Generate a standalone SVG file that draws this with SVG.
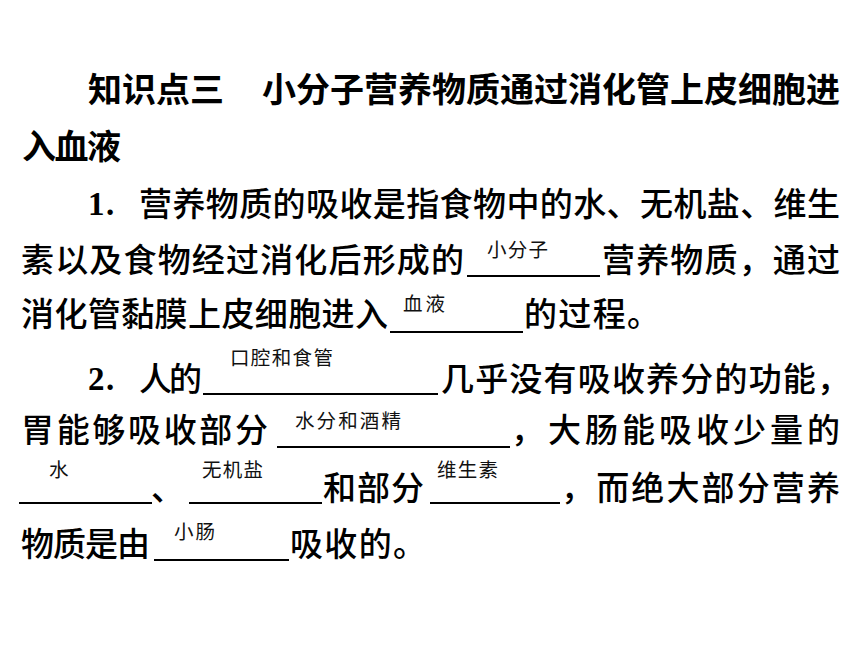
<svg xmlns="http://www.w3.org/2000/svg" width="860" height="645" viewBox="0 0 860 645">
<style>
.t{font-family:"Noto Sans CJK SC","Noto Sans CJK JP",sans-serif;font-size:34px;font-weight:700;fill:#000}
.b{font-family:"Noto Sans CJK SC","Noto Sans CJK JP",sans-serif;font-size:33px;font-weight:500;fill:#000}
.n{font-family:"Liberation Serif",serif;font-size:33px;font-weight:700;fill:#000}
.a{font-family:"Noto Sans CJK SC","Noto Sans CJK JP",sans-serif;font-size:19.5px;font-weight:400;fill:#111}
.u{stroke:#000;stroke-width:2.2}
</style>
<rect width="860" height="645" fill="#fff"/>
<g id="title">
<text class="t" x="88" y="102" textLength="136" lengthAdjust="spacing">知识点三</text>
<text class="t" x="262" y="102" textLength="578" lengthAdjust="spacing">小分子营养物质通过消化管上皮细胞进</text>
<text class="t" x="22" y="159" textLength="99" lengthAdjust="spacing">入血液</text>
</g>
<g id="para1">
<text class="n" x="88" y="215">1</text>
<text class="n" x="106" y="215">.</text>
<text class="b" x="139" y="216" textLength="701" lengthAdjust="spacing">营养物质的吸收是指食物中的水、无机盐、维生</text>
<text class="b" x="21" y="272" textLength="443" lengthAdjust="spacing">素以及食物经过消化后形成的</text>
<text class="b" x="602" y="272" textLength="238" lengthAdjust="spacing">营养物质，通过</text>
<text class="b" x="21" y="326" textLength="367" lengthAdjust="spacing">消化管黏膜上皮细胞进入</text>
<text class="b" x="524" y="326" textLength="136" lengthAdjust="spacing">的过程。</text>
<text class="a" x="487" y="257" textLength="61" lengthAdjust="spacing">小分子</text>
<text class="a" x="403" y="311" textLength="42" lengthAdjust="spacing">血液</text>
</g>
<g id="para2">
<text class="n" x="88" y="390">2</text>
<text class="n" x="106" y="390">.</text>
<text class="b" x="139" y="391" textLength="63" lengthAdjust="spacing">人的</text>
<text class="b" x="441" y="391" textLength="409" lengthAdjust="spacing">几乎没有吸收养分的功能，</text>
<text class="b" x="21" y="442" textLength="247" lengthAdjust="spacing">胃能够吸收部分</text>
<text class="b" x="511" y="442" textLength="329" lengthAdjust="spacing">，大肠能吸收少量的</text>
<text class="b" x="151" y="500" textLength="34" lengthAdjust="spacing">、</text>
<text class="b" x="323" y="500" textLength="101" lengthAdjust="spacing">和部分</text>
<text class="b" x="561" y="500" textLength="279" lengthAdjust="spacing">，而绝大部分营养</text>
<text class="b" x="21" y="556" textLength="129" lengthAdjust="spacing">物质是由</text>
<text class="b" x="290" y="556" textLength="136" lengthAdjust="spacing">吸收的。</text>
<text class="a" x="230" y="365" textLength="103" lengthAdjust="spacing">口腔和食管</text>
<text class="a" x="295" y="428" textLength="106" lengthAdjust="spacing">水分和酒精</text>
<text class="a" x="49" y="477">水</text>
<text class="a" x="202" y="477" textLength="61" lengthAdjust="spacing">无机盐</text>
<text class="a" x="437" y="477" textLength="61" lengthAdjust="spacing">维生素</text>
<text class="a" x="174" y="539" textLength="41" lengthAdjust="spacing">小肠</text>
</g>
<g id="blanks">
<line class="u" x1="467" y1="276" x2="600" y2="276"/>
<line class="u" x1="390" y1="332" x2="523" y2="332"/>
<line class="u" x1="203" y1="394" x2="438" y2="394"/>
<line class="u" x1="277" y1="447" x2="510" y2="447"/>
<line class="u" x1="19" y1="503" x2="152" y2="503"/>
<line class="u" x1="189" y1="503" x2="322" y2="503"/>
<line class="u" x1="430" y1="503" x2="560" y2="503"/>
<line class="u" x1="154" y1="560" x2="289" y2="560"/>
</g>
</svg>
